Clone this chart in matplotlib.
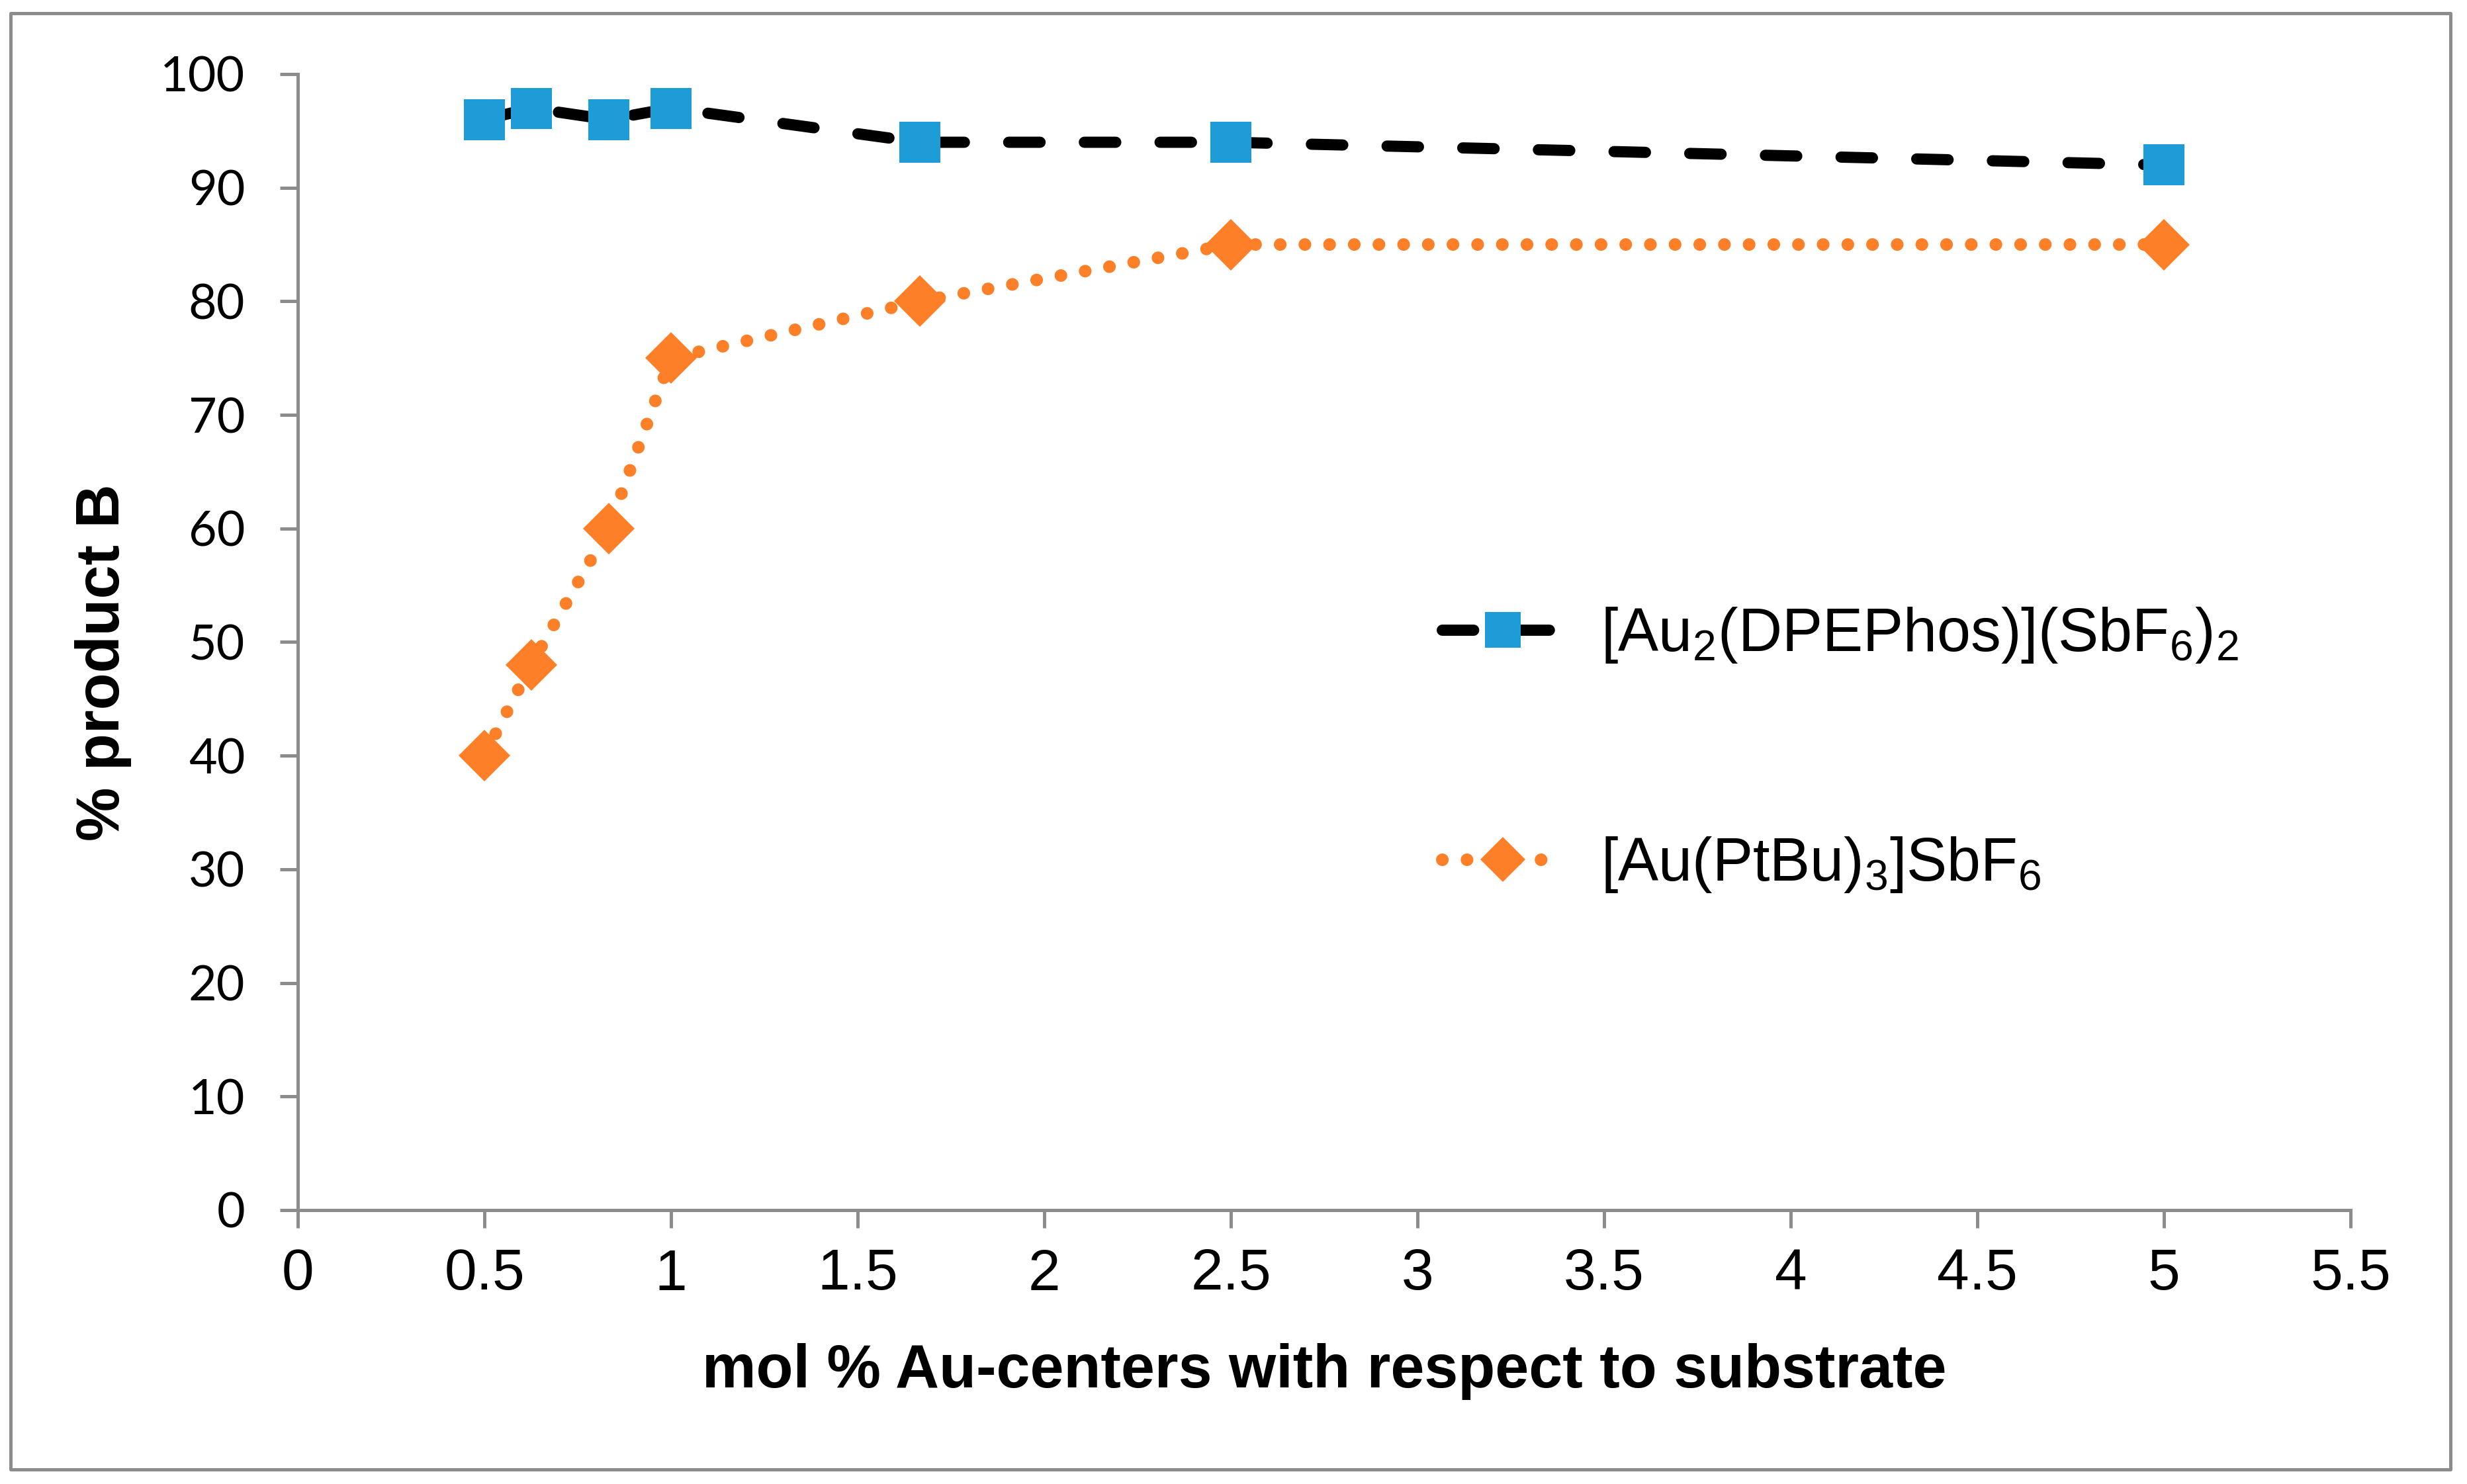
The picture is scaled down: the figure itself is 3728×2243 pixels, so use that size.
import matplotlib
matplotlib.use('Agg')
import matplotlib.pyplot as plt
from matplotlib.patches import Rectangle

# data
mol_au = [0.5, 0.625, 0.833, 1.0, 1.667, 2.5, 5.0]
dpephos = [96, 97, 96, 97, 94, 94, 92]
ptbu = [40, 48, 60, 75, 80, 85, 85]
name_dpephos = r'[Au$_2$(DPEPhos)](SbF$_6$)$_2$'
name_ptbu = r'[Au(PtBu)$_3$]SbF$_6$'
xticks = [0, 0.5, 1, 1.5, 2, 2.5, 3, 3.5, 4, 4.5, 5, 5.5]
yticks = [0, 10, 20, 30, 40, 50, 60, 70, 80, 90, 100]

plt.rcParams['font.family'] = ['Liberation Sans', 'DejaVu Sans']
plt.rcParams['mathtext.fontset'] = 'custom'
plt.rcParams['mathtext.rm'] = 'Liberation Sans'
plt.rcParams['mathtext.it'] = 'Liberation Sans'
plt.rcParams['mathtext.default'] = 'regular'

gray = '#8c8c8c'
blue = '#1e9cd7'
orange = '#fd7f27'

W, H = 3728, 2243
fig = plt.figure(figsize=(W/100, H/100), dpi=100)
ax = fig.add_axes([450/W, 1-1829/H, (3552-450)/W, (1829-112)/H])

#outer chart frame
fig.patches.append(Rectangle((16/W, 1-2221/H), (3703-16)/W, (2221-20)/H,
                             transform=fig.transFigure, fill=False,
                             ec=gray, lw=3.6, joinstyle='round'))

ax.plot(mol_au, dpephos, color='black', lw=12.2, linestyle=(0, (2.8, 3.95)),
        dash_capstyle='round', marker='s', ms=45, mfc=blue, mec=blue, mew=0,
        label=name_dpephos, zorder=3)
ax.plot(mol_au, ptbu, color=orange, lw=13.7, linestyle=(0, (0.01, 1.95)),
        dash_capstyle='round', marker='D', ms=40, mfc=orange, mec=orange, mew=0,
        label=name_ptbu, zorder=3)

ax.set_xlim(0, 5.5)
ax.set_ylim(0, 100)
ax.set_xticks(xticks)
ax.set_xticklabels(['%g' % t for t in xticks])
ax.set_yticks(yticks)

for s in ['top', 'right']:
    ax.spines[s].set_visible(False)
for s in ['left', 'bottom']:
    ax.spines[s].set_color(gray)
    ax.spines[s].set_linewidth(3.6)

ax.tick_params(axis='both', direction='out', length=19.4, width=3.6, color=gray)
ax.tick_params(axis='x', labelsize=63, pad=22)
ax.tick_params(axis='y', labelsize=53, pad=38, labelfontfamily='Lato')

ax.set_xlabel('mol % Au-centers with respect to substrate', fontsize=66,
              fontweight='bold')
ax.xaxis.set_label_coords(0.5, -0.117)
ax.set_ylabel('% product B', fontsize=66, fontweight='bold')
ax.yaxis.set_label_coords(-0.081, 0.482)

ax.legend(loc='upper left', bbox_to_anchor=(2179/W, 1-915/H),
          bbox_transform=fig.transFigure, frameon=False, fontsize=66,
          handlelength=2.0, handletextpad=0.62, labelspacing=2.8,
          borderpad=0, borderaxespad=0, markerscale=0.86)

fig.savefig('out.png', dpi=100)
